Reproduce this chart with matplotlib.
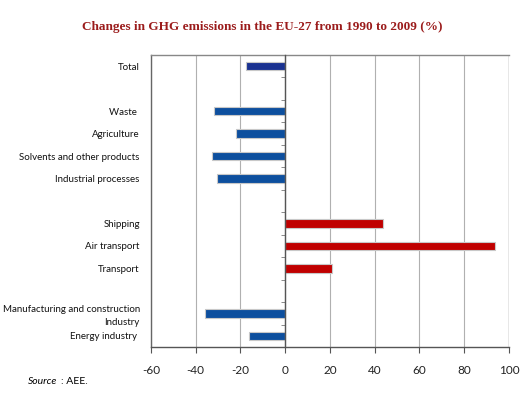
import numpy as np
import matplotlib
matplotlib.use("Agg")
import matplotlib.pyplot as plt
from matplotlib.ticker import FixedLocator

# rows from top to bottom, '' = empty row
categories = ["Total", "", "Waste ", "Agriculture", "Solvents and other products",
              "Industrial processes", "", "Shipping", "Air transport", "Transport", "",
              "Manufacturing and construction\nIndustry", "Energy industry "]
values = [-17.4, np.nan, -31.9, -22.2, -32.8, -30.6, np.nan, 43.6, 93.9, 20.9, np.nan,
          -35.8, -16.4]
groups = ["total", "", "other", "other", "other", "other", "", "transport", "transport",
          "transport", "", "other", "other"]
colours = {"total": "#1a3291", "other": "#0d4f9e", "transport": "#c00000", "": "none"}

xticks = [-60, -40, -20, 0, 20, 40, 60, 80, 100]

plt.rcParams['font.family'] = ['Lato', 'DejaVu Sans']

fig = plt.figure(figsize=(5.27, 3.98), dpi=100)
ax = fig.add_axes([0.2865, 0.128, 0.6793, 0.734])

# zero line with small ticks at row boundaries (set first: set_position resets ticks)
ax.spines["right"].set_position(("data", 0))
ax.spines["right"].set_color("#555555")
ax.spines["right"].set_linewidth(1.0)
ax.spines["right"].set_zorder(4)

n = len(categories)
y = np.arange(n)
vals = np.array(values, dtype=float)
ok = ~np.isnan(vals)
ax.barh(y[ok], vals[ok], height=0.38,
        color=[colours[g] for g, k in zip(groups, ok) if k],
        edgecolor="#c8c8c8", linewidth=0.8, zorder=3)

ax.set_xlim(-60, 100)
ax.set_ylim(n - 0.5, -0.5)
ax.set_xticks(xticks)
ax.set_xticklabels([str(v) for v in xticks], fontsize=8.5, color="#222222")
ax.tick_params(axis="x", length=4, color="#555555", pad=9)

ax.set_yticks(y)
ax.set_yticklabels(categories, fontsize=7, color="#111111")
ax.tick_params(axis="y", which="major", length=0, pad=8)
for lab in ax.get_yticklabels():
    lab.set_multialignment("right")
    lab.set_linespacing(1.5)

ax.yaxis.set_minor_locator(FixedLocator(np.arange(n + 1) - 0.5))
ax.tick_params(axis="y", which="minor", left=False, labelleft=False, right=True,
               labelright=False, direction="in", length=3, color="#777777")
for t in ax.yaxis.get_minor_ticks(n + 1):
    t.tick1line.set_visible(False)

ax.grid(axis="x", color="#b0b0b0", linewidth=0.8, zorder=0)
ax.axvline(100, color="#999999", linewidth=1.0, zorder=1)

ax.spines["left"].set_color("#666666")
ax.spines["bottom"].set_color("#555555")
ax.spines["top"].set_color("#888888")
for s in ("left", "bottom", "top"):
    ax.spines[s].set_linewidth(1.0)

fig.text(0.497, 0.932, "Changes in GHG emissions in the EU-27 from 1990 to 2009 (%)",
         ha="center", va="center", fontsize=9.5, fontweight="bold",
         family="Liberation Serif", color="#9b1c1c")
fig.text(0.053, 0.042, "Source", fontsize=7.5, style="italic", ha="left", va="center")
fig.text(0.116, 0.042, ": AEE.", fontsize=7.5, ha="left", va="center")

fig.savefig("out.png", dpi=100)
